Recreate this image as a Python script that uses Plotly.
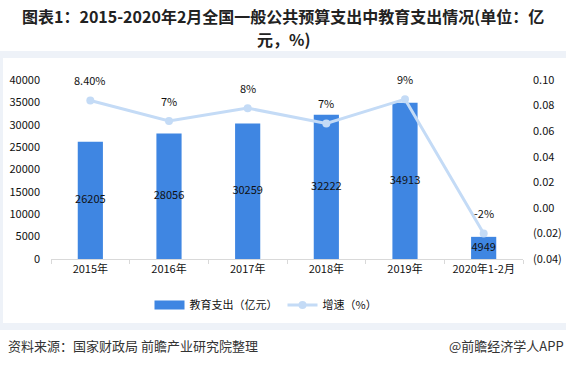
import plotly.graph_objects as go

categories = ["2015年", "2016年", "2017年", "2018年", "2019年", "2020年1-2月"]
spending = [26205, 28056, 30259, 32222, 34913, 4949]
growth = [0.084, 0.068, 0.078, 0.066, 0.085, -0.02]
growth_labels = ["8.40%", "7%", "8%", "7%", "9%", "-2%"]
left_ticks = [0, 5000, 10000, 15000, 20000, 25000, 30000, 35000, 40000]
right_ticks = [-0.04, -0.02, 0.0, 0.02, 0.04, 0.06, 0.08, 0.10]
right_labels = ["(0.04)", "(0.02)", "0.00", "0.02", "0.04", "0.06", "0.08", "0.10"]

FONT = "Noto Sans CJK SC, Noto Sans, sans-serif"
BAR = "#3f86e2"
LINE = "#c4dbf6"

W, H = 566, 367
L, R, T, B = 51, 43, 80, 108
pw, ph = W - L - R, H - T - B

def px(x):
    return (x - L) / pw

def py(y):
    return (H - B - y) / ph

fig = go.Figure()
fig.add_trace(go.Bar(
    x=categories, y=spending, name="教育支出（亿元）",
    marker=dict(color=BAR, line=dict(width=0)), width=0.32,
    yaxis="y", showlegend=False,
))
# legend proxy for bars (wide flat swatch like the reference)
fig.add_trace(go.Scatter(
    x=[None], y=[None], name="教育支出（亿元）", mode="lines",
    line=dict(color=BAR, width=9), yaxis="y",
))
fig.add_trace(go.Scatter(
    x=categories, y=[v / 2 for v in spending],
    text=[str(v) for v in spending], mode="text",
    textfont=dict(size=11, color="#111", family=FONT),
    showlegend=False, hoverinfo="skip", yaxis="y",
))
fig.add_trace(go.Scatter(
    x=categories, y=growth, name="增速（%）", yaxis="y2",
    mode="lines+markers", line=dict(color=LINE, width=3),
    marker=dict(color=LINE, size=8),
))

shapes = [
    dict(type="rect", xref="paper", yref="paper", x0=px(0), x1=px(W), y0=py(58), y1=py(51),
         fillcolor="#eef2f8", line=dict(width=0), layer="below"),
    dict(type="rect", xref="paper", yref="paper", x0=px(0), x1=px(W), y0=py(330), y1=py(323),
         fillcolor="#eef2f8", line=dict(width=0), layer="below"),
    dict(type="rect", xref="paper", yref="paper", x0=px(0), x1=px(3), y0=py(323), y1=py(58),
         fillcolor="#eef2f8", line=dict(width=0), layer="below"),
]

annotations = [
    dict(text="<b>图表1：2015-2020年2月全国一般公共预算支出中教育支出情况(单位：亿</b>",
         xref="paper", yref="paper", x=px(W / 2), y=py(16), xanchor="center", yanchor="middle",
         showarrow=False, font=dict(size=16, color="#222", family=FONT)),
    dict(text="<b>元，%)</b>",
         xref="paper", yref="paper", x=px(W / 2), y=py(39), xanchor="center", yanchor="middle",
         showarrow=False, font=dict(size=16, color="#222", family=FONT)),
    dict(text="资料来源：国家财政局 前瞻产业研究院整理", xref="paper", yref="paper",
         x=px(6), y=py(345), xanchor="left", yanchor="middle", showarrow=False,
         font=dict(size=13, color="#333", family=FONT)),
    dict(text="@前瞻经济学人APP", xref="paper", yref="paper",
         x=px(566), y=py(345), xanchor="right", yanchor="middle", showarrow=False,
         font=dict(size=13, color="#333", family=FONT)),
]
for c, g, t in zip(categories, growth, growth_labels):
    annotations.append(dict(
        x=c, y=g, xref="x", yref="y2", text=t, showarrow=False,
        yshift=20, font=dict(size=11, color="#111", family=FONT),
    ))

fig.update_layout(
    width=W, height=H,
    margin=dict(l=L, r=R, t=T, b=B, autoexpand=False),
    paper_bgcolor="white", plot_bgcolor="white",
    font=dict(family=FONT, size=11, color="#222"),
    xaxis=dict(showline=True, linecolor="#d9d9d9", linewidth=1, ticks="outside",
               tickcolor="#d9d9d9", ticklen=4, showgrid=False, tickangle=0, automargin=False,
               tickfont=dict(size=11, color="#111"), tickson="boundaries"),
    yaxis=dict(range=[0, 40000], tickvals=left_ticks, ticktext=[str(v) for v in left_ticks],
               showgrid=False, zeroline=False, automargin=False,
               showline=False, tickfont=dict(size=11, color="#111"), ticklabelstandoff=10),
    yaxis2=dict(range=[-0.04, 0.10], tickvals=right_ticks, ticktext=right_labels,
                overlaying="y", side="right", showgrid=False, zeroline=False, showline=False,
                automargin=False,
                tickfont=dict(size=11, color="#111"), ticklabelstandoff=9),
    legend=dict(orientation="h", x=px(266), xanchor="center", y=py(305), yanchor="middle",
                font=dict(size=11, color="#111"), bgcolor="rgba(0,0,0,0)",
                itemwidth=30, tracegroupgap=0),
    shapes=shapes, annotations=annotations,
    showlegend=True,
)

fig.write_html("out.html", config={"displayModeBar": False},
               post_script="document.body.style.margin='0';")
